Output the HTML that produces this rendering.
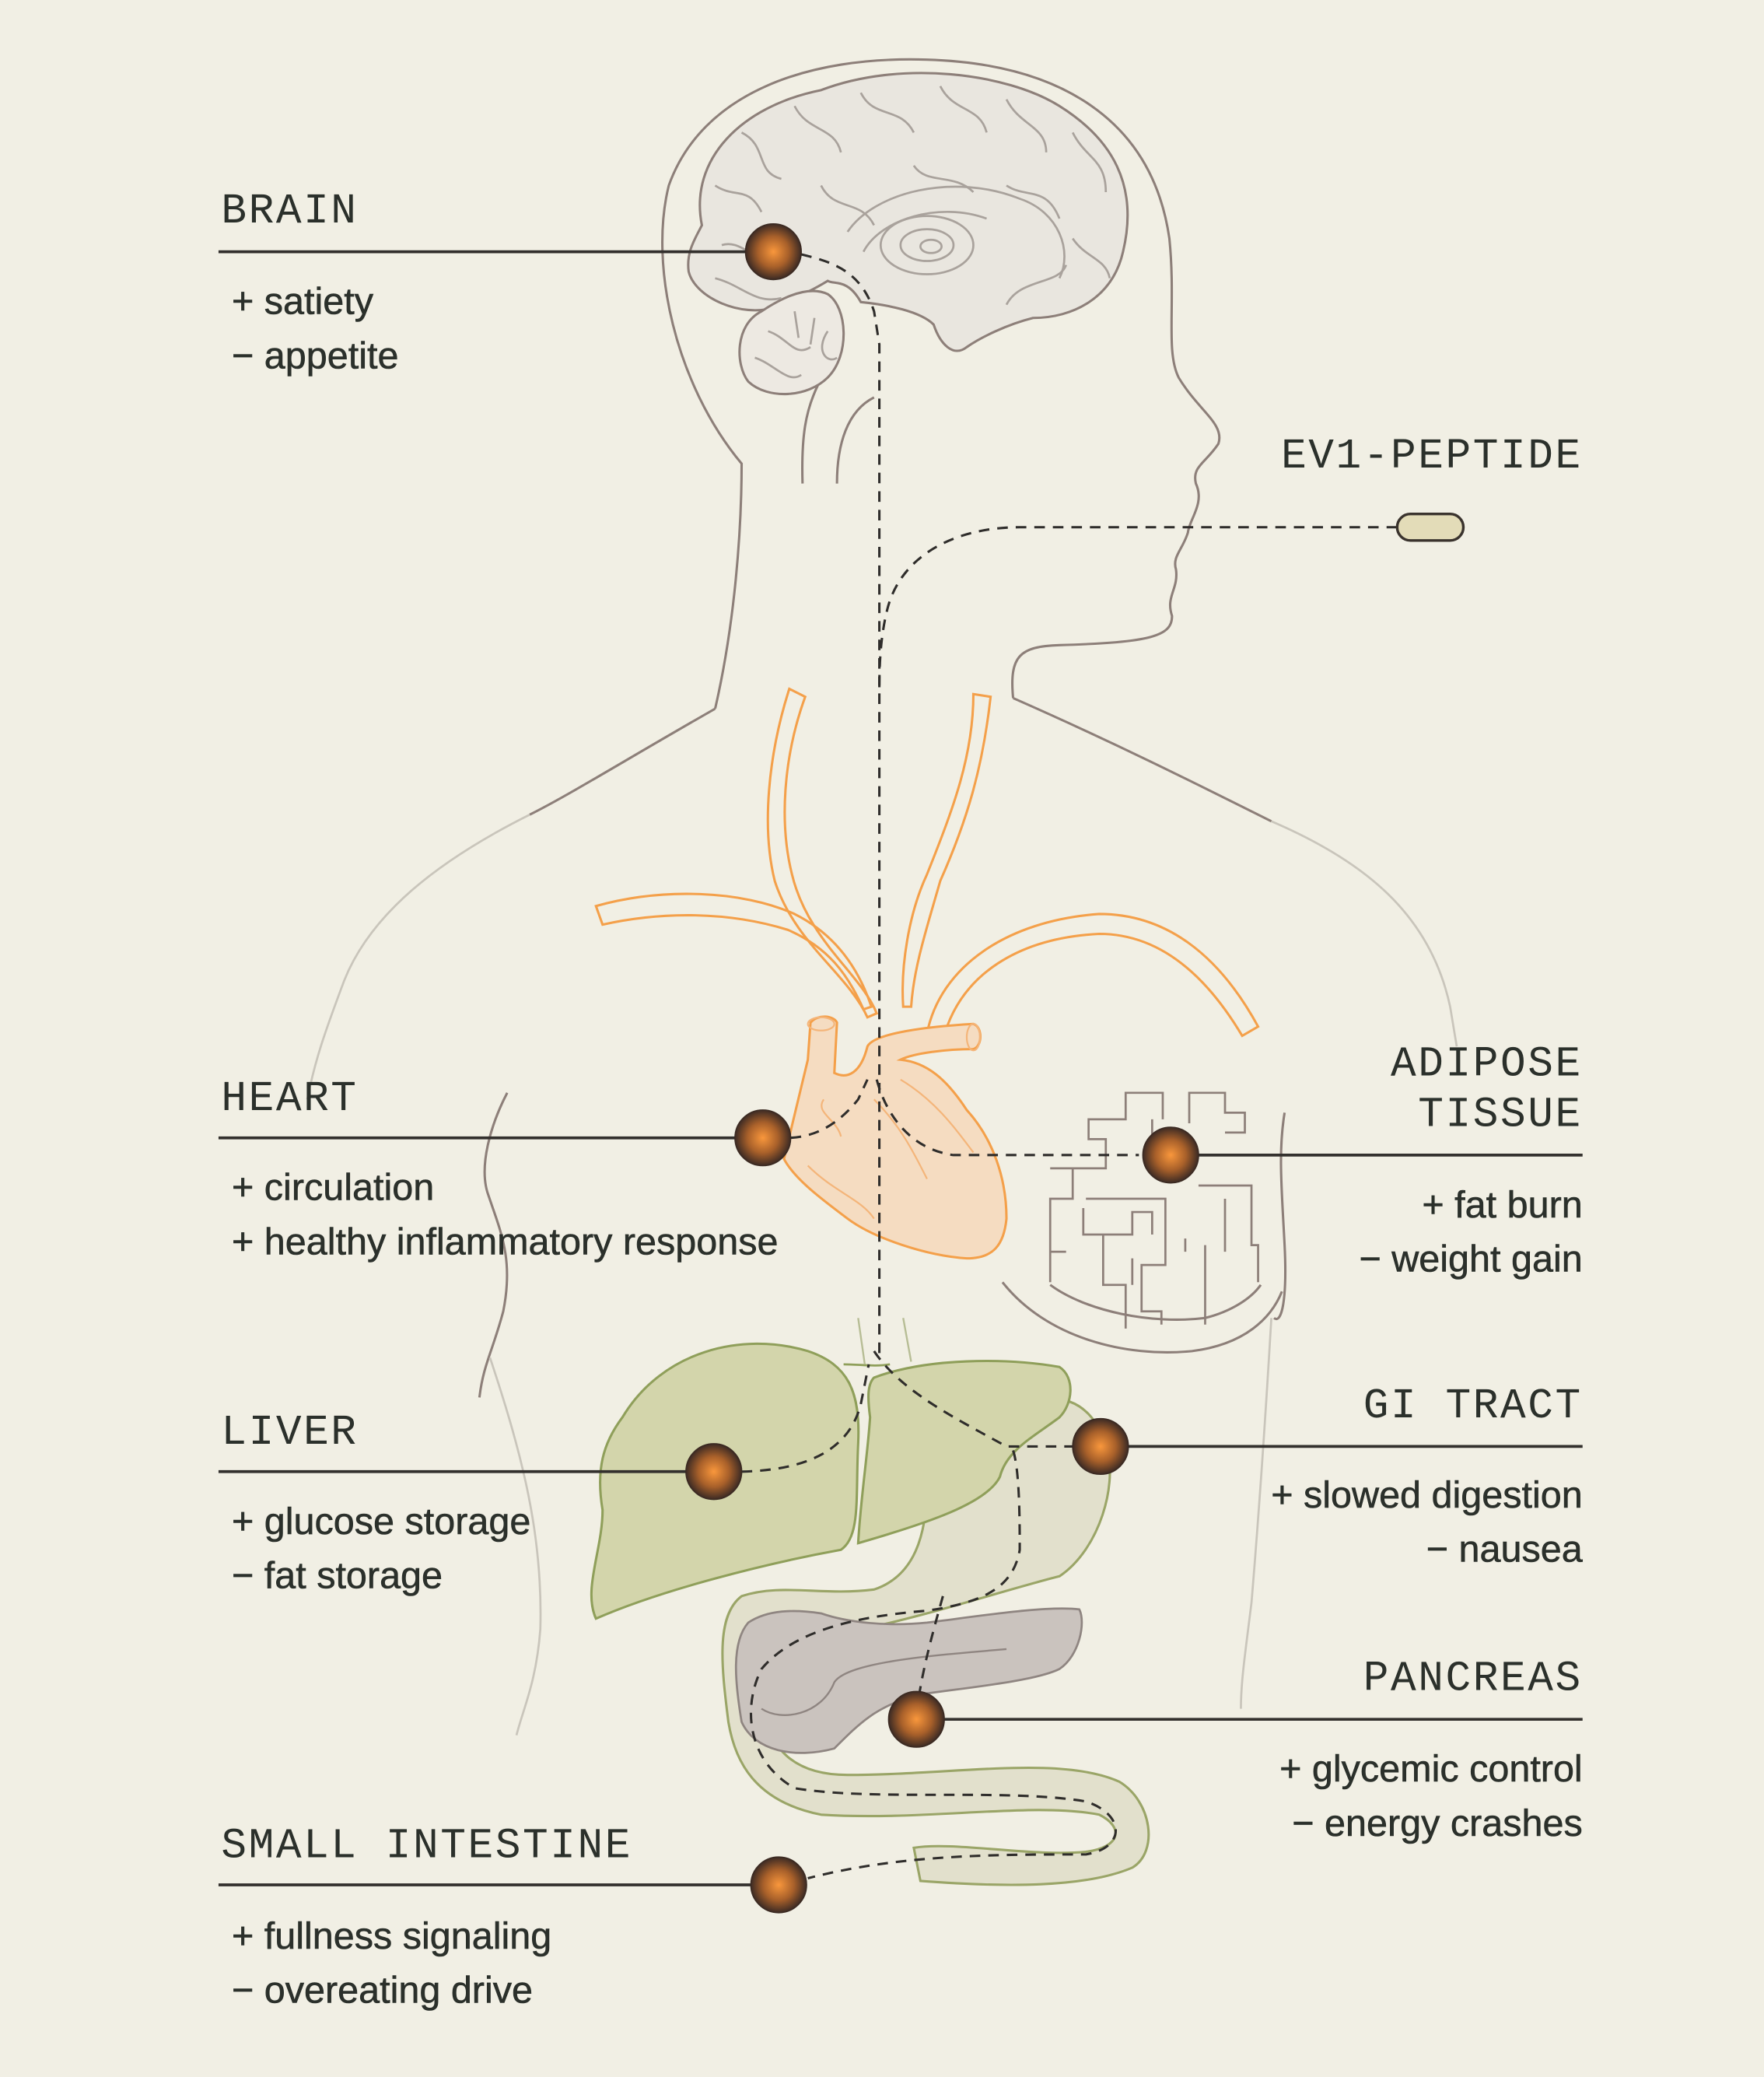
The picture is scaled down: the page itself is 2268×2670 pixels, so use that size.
<!DOCTYPE html>
<html><head><meta charset="utf-8"><style>
html,body{margin:0;padding:0;background:#f1efe4;}
svg{display:block}
.lab{font-family:"Liberation Mono",monospace;font-size:32px;fill:#2b302b;letter-spacing:1.5px}
.it{font-family:"Liberation Sans",sans-serif;font-size:28.5px;fill:#2b302b;stroke:#2b302b;stroke-width:0.35}
.ln{stroke:#33302d;stroke-width:2.2;fill:none}
.ds{stroke:#2f2d2b;stroke-width:1.8;fill:none;stroke-dasharray:8 6}
.bd{stroke:#8d7f79;stroke-width:1.8;fill:none}
.bl{stroke:#c9c5bb;stroke-width:1.6;fill:none}
.or{stroke:#f4a04a;stroke-width:1.8;fill:none}
</style></head><body>
<svg width="2268" height="2670" viewBox="0 0 1332 1568" xmlns="http://www.w3.org/2000/svg">
<defs>
<radialGradient id="g" cx="0.5" cy="0.5" r="0.5">
<stop offset="0" stop-color="#f9973c"/><stop offset="0.55" stop-color="#a8602a"/><stop offset="1" stop-color="#3d2b24"/>
</radialGradient>
</defs>
<rect width="1332" height="1568" fill="#f1efe4"/>

<path class="bd" d="M540,535 C555,470 560,400 560,350 C510,290 490,200 505,140 C530,70 610,42 700,45 C800,48 870,90 883,180 C888,230 880,265 890,285 C905,310 925,320 920,335 C910,350 900,352 903,365 C910,380 898,392 897,402 C893,415 885,420 888,430 C890,445 880,450 885,465 C885,480 870,485 800,487 C770,488 762,495 765,527"/>
<path class="bd" d="M540,535 C470,575 430,600 400,615"/>
<path class="bl" d="M400,615 C330,650 280,690 260,740 C245,780 238,800 232,830"/>
<path class="bd" d="M765,527 C840,560 900,590 960,620"/>
<path class="bl" d="M960,620 C1030,650 1080,690 1095,760 L1100,790"/>
<path class="bd" d="M383,825 C370,850 362,880 368,900 C378,930 388,950 380,990 C372,1020 365,1030 362,1055"/>
<path class="bl" d="M370,1025 C395,1100 410,1160 408,1230 C405,1270 395,1290 390,1310"/>
<path class="bd" d="M970,840 C965,870 968,900 970,940 C972,980 968,1000 962,995"/>
<path class="bl" d="M960,995 C955,1080 950,1150 945,1210 C940,1250 937,1270 937,1290"/>
<path class="bd" d="M606,365 C605,330 608,310 618,290"/>
<path class="bd" d="M632,365 C632,335 640,310 660,300"/>

<path d="M530,170 C520,120 560,80 620,68 C680,45 760,55 800,80 C840,105 860,140 848,190 C840,225 810,240 780,240 C760,245 740,255 730,262 C720,270 710,260 705,245 C695,235 670,230 650,228 C640,210 630,215 625,212 C612,220 600,225 585,232 C560,240 525,225 520,205 C518,190 525,180 530,170 Z" fill="#e9e6df" stroke="#8d7f79" stroke-width="1.8"/>
<path d="M575,235 C555,245 555,275 565,288 C580,302 610,300 625,285 C642,268 640,232 625,222 C610,215 590,225 575,235 Z" fill="#ede9e2" stroke="#8d7f79" stroke-width="1.8"/>
<g stroke="#a9a29c" stroke-width="1.6" fill="none">
<path d="M560,100 C580,110 570,130 590,135 M600,80 C610,100 630,95 635,115 M650,70 C660,90 680,80 690,100 M710,65 C720,85 740,80 745,100 M760,75 C770,95 790,95 790,115 M810,100 C820,120 835,120 835,145 M540,140 C555,150 565,140 575,160 M545,185 C560,180 570,200 590,195 M540,210 C560,215 570,230 590,225"/>
<path d="M620,140 C630,160 650,150 660,170 M690,125 C700,140 720,130 735,145 M760,140 C775,150 790,140 800,165 M810,180 C820,195 835,195 838,210 M760,230 C770,210 800,215 805,200"/>
<path d="M640,175 C660,145 720,130 770,150 C800,160 810,190 800,210 M652,190 C665,165 710,152 745,165"/>
<ellipse cx="700" cy="185" rx="35" ry="22"/><ellipse cx="700" cy="185" rx="20" ry="12"/><ellipse cx="703" cy="186" rx="8" ry="5"/>
<path d="M580,250 C595,255 600,270 612,262 M570,270 C585,275 595,290 605,283 M600,235 L603,255 M615,240 L612,260 M625,250 C615,265 625,275 632,270"/>
</g>

<path class="or" d="M596,520 L608,526 C592,570 588,620 598,660 C610,710 650,735 662,765 L655,768 C640,735 600,712 585,665 C575,625 580,570 596,520 Z"/>
<path class="or" d="M735,524 L748,526 C742,580 730,620 710,665 C700,700 690,730 688,760 L682,760 C680,730 686,690 700,660 C720,610 735,570 735,524 Z"/>
<path class="or" d="M450,684 C500,670 560,672 600,690 C630,705 648,730 658,760 L652,762 C640,735 625,715 595,702 C550,688 500,688 455,698 Z"/>
<path class="or" d="M700,780 C710,730 760,695 830,690 C880,690 920,720 950,775 L938,782 C910,735 875,705 830,705 C770,708 725,735 712,785 Z"/>

<path d="M612,772 C618,765 630,767 632,772 L630,810 C640,815 650,810 655,790 C660,780 700,775 735,773 C742,775 742,790 735,792 C715,792 690,795 680,800 C700,802 715,815 730,838 C750,860 760,890 760,920 C758,940 750,950 730,950 C700,948 660,935 640,920 C620,905 600,890 592,875 C598,850 605,820 610,800 Z" fill="#f5dcc1" stroke="#f4a04a" stroke-width="1.8"/>
<g stroke="#f4b57a" stroke-width="1.3" fill="none">
<path d="M622,830 C615,840 632,845 635,858 M660,830 C680,850 690,870 700,890 M680,815 C705,830 720,850 735,870 M610,880 C630,900 650,905 660,920"/>
<ellipse cx="620" cy="773" rx="10" ry="5"/><ellipse cx="735" cy="783" rx="5" ry="10"/>
</g>

<path class="bd" d="M757,968 C790,1010 850,1025 900,1020 C940,1015 960,995 968,975"/>
<path class="bd" d="M793,970 C820,990 870,1000 910,995 C930,990 945,980 952,970"/>
<g stroke="#8d7f79" stroke-width="1.6" fill="none">
<path d="M793,968 L793,945 L805,945 M793,945 L793,905 L810,905 L810,882 L793,882 M810,882 L835,882 L835,860 L822,860 L822,845 L850,845 L850,825 L878,825 L878,845"/>
<path d="M818,912 L818,932 L833,932 L833,970 L850,970 L850,1003 M833,932 L855,932 L855,915 L870,915 L870,932 M820,905 L880,905 L880,955 L862,955 L862,990 L877,990 L877,1000 M855,950 L855,970"/>
<path d="M898,848 L898,825 L925,825 L925,840 L940,840 L940,855 L925,855 M905,895 L945,895 L945,940 L950,940 L950,968 M925,905 L925,945 M910,940 L910,1000 M895,935 L895,945 M870,845 L870,870 L900,870"/>
</g>

<path d="M560,1205 C540,1220 545,1260 550,1300 C555,1330 570,1360 620,1370 C700,1375 780,1360 830,1370 C850,1380 845,1395 820,1398 C780,1402 720,1390 690,1395 L695,1420 C760,1425 820,1425 855,1410 C875,1398 870,1360 845,1345 C800,1325 720,1340 640,1340 C600,1340 580,1320 578,1290 C575,1250 600,1240 650,1230 C700,1220 760,1200 800,1190 C830,1170 845,1120 835,1090 C822,1055 800,1050 760,1060 L700,1120 C700,1160 690,1190 660,1200 C620,1205 590,1195 560,1205 Z" fill="#e2e0cc" stroke="#9aa567" stroke-width="1.8"/>
<path d="M565,1225 C552,1240 555,1270 560,1300 C570,1322 600,1328 630,1320 C650,1300 660,1290 690,1280 C720,1275 780,1270 800,1260 C815,1250 820,1225 815,1215 C790,1212 740,1220 700,1225 C670,1228 640,1225 620,1218 C600,1215 580,1215 565,1225 Z" fill="#cac3be" stroke="#8f8581" stroke-width="1.6"/>
<path d="M575,1290 C590,1300 620,1295 630,1270 C640,1255 700,1250 760,1245" stroke="#8f8581" stroke-width="1.4" fill="none"/>
<path d="M470,1070 C500,1020 560,1005 610,1020 C640,1030 650,1050 648,1090 C646,1130 650,1160 635,1170 C580,1180 500,1200 450,1222 C440,1200 455,1170 455,1140 C450,1110 455,1090 470,1070 Z" fill="#d3d5ab" stroke="#8f9f5a" stroke-width="1.8"/>
<path d="M660,1040 C700,1025 760,1025 800,1032 C812,1040 810,1060 800,1070 C780,1085 760,1095 755,1115 C745,1135 700,1150 648,1165 C650,1130 655,1100 657,1070 C655,1055 655,1045 660,1040 Z" fill="#d3d5ab" stroke="#8f9f5a" stroke-width="1.8"/>
<path d="M637,1030 C650,1030 660,1032 672,1030" stroke="#8f9f5a" stroke-width="1.6" fill="none"/>
<path d="M648,995 L653,1030 M682,995 L688,1028" stroke="#b7bd95" stroke-width="1.4" fill="none"/>

<path class="ds" d="M1055,398 L770,398 C720,398 680,420 670,460 C665,480 664,500 664,520 L664,1025"/>
<path class="ds" d="M605,192 C630,198 650,205 660,235 L664,260 L664,520"/>
<path class="ds" d="M597,859 C615,858 632,850 648,830 L655,815 M662,815 C670,845 690,868 720,872 L860,872"/>
<path class="ds" d="M560,1111 C600,1110 640,1100 650,1060 L656,1030 M660,1020 C680,1050 720,1070 760,1092 L810,1092"/>
<path class="ds" d="M765,1095 C770,1110 770,1150 770,1170 C765,1200 740,1210 700,1216 C650,1220 600,1230 575,1260 C560,1290 565,1330 600,1350 C660,1360 760,1350 820,1360 C850,1370 850,1395 820,1400 C750,1400 680,1400 610,1418"/>
<path class="ds" d="M712,1205 C705,1230 698,1255 694,1280"/>

<path class="ln" d="M165,190 L584,190 M165,859 L576,859 M884,872 L1195,872 M165,1111 L539,1111 M831,1092 L1195,1092 M692,1298 L1195,1298 M165,1423 L588,1423"/>

<rect x="1055" y="388" width="50" height="20" rx="10" fill="#e3dcb8" stroke="#3a332d" stroke-width="2"/>

<g stroke="#3b2a22" stroke-width="1">
<circle cx="584" cy="190" r="21" fill="url(#g)"/>
<circle cx="576" cy="859" r="21" fill="url(#g)"/>
<circle cx="884" cy="872" r="21" fill="url(#g)"/>
<circle cx="539" cy="1111" r="21" fill="url(#g)"/>
<circle cx="831" cy="1092" r="21" fill="url(#g)"/>
<circle cx="692" cy="1298" r="21" fill="url(#g)"/>
<circle cx="588" cy="1423" r="21" fill="url(#g)"/>
</g>

<text class="lab" x="167" y="168">BRAIN</text>
<text class="it" x="175" y="237">+ satiety</text>
<text class="it" x="175" y="278">− appetite</text>

<text class="lab" x="1195" y="353" text-anchor="end">EV1-PEPTIDE</text>

<text class="lab" x="167" y="838">HEART</text>
<text class="it" x="175" y="906">+ circulation</text>
<text class="it" x="175" y="947">+ healthy inflammatory response</text>

<text class="lab" x="1195" y="812" text-anchor="end">ADIPOSE</text>
<text class="lab" x="1195" y="850" text-anchor="end">TISSUE</text>
<text class="it" x="1195" y="919" text-anchor="end">+ fat burn</text>
<text class="it" x="1195" y="960" text-anchor="end">− weight gain</text>

<text class="lab" x="167" y="1090">LIVER</text>
<text class="it" x="175" y="1158">+ glucose storage</text>
<text class="it" x="175" y="1199">− fat storage</text>

<text class="lab" x="1195" y="1070" text-anchor="end">GI TRACT</text>
<text class="it" x="1195" y="1138" text-anchor="end">+ slowed digestion</text>
<text class="it" x="1195" y="1179" text-anchor="end">− nausea</text>

<text class="lab" x="1195" y="1276" text-anchor="end">PANCREAS</text>
<text class="it" x="1195" y="1345" text-anchor="end">+ glycemic control</text>
<text class="it" x="1195" y="1386" text-anchor="end">− energy crashes</text>

<text class="lab" x="167" y="1402">SMALL INTESTINE</text>
<text class="it" x="175" y="1471">+ fullness signaling</text>
<text class="it" x="175" y="1512">− overeating drive</text>
</svg>
</body></html>
